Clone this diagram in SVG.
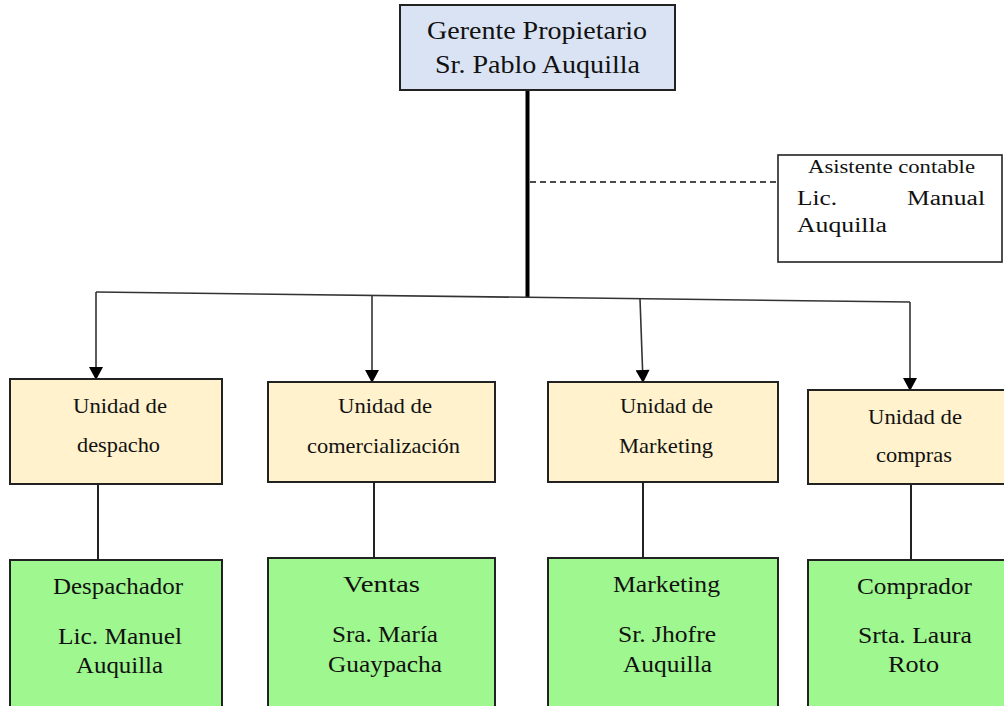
<svg xmlns="http://www.w3.org/2000/svg" width="1004" height="706" viewBox="0 0 1004 706">
<style>
.box{stroke:#222;stroke-width:2}
.top{fill:#dae3f3}
.unit{fill:#fff2cc}
.staff{fill:#9ff78f}
.asst{fill:#fff;stroke:#222;stroke-width:1.6}
text{fill:#111}
.t26{font-size:26px}
.t20{font-size:20px}
.t21{font-size:21px}
.t24{font-size:24px}
.conn{stroke:#333;stroke-width:1.6;fill:none}
</style>
<defs>
<marker id="arrd" markerUnits="userSpaceOnUse" markerWidth="14" markerHeight="14" viewBox="0 0 13 14" refX="12" refY="7" orient="auto">
<path d="M0,0 L13,7 L0,14 Z" fill="#000"/>
</marker>
</defs>
<rect width="1004" height="706" fill="#fff"/>

<g id="connectors">
<line x1="527.5" y1="90" x2="527.5" y2="297" stroke="#000" stroke-width="4"/>
<line x1="530" y1="182" x2="778" y2="182" stroke="#111" stroke-width="1.5" stroke-dasharray="6,4"/>
<line x1="96" y1="292" x2="910" y2="302" class="conn"/>
<line x1="96" y1="292" x2="96" y2="379" class="conn" marker-end="url(#arrd)"/>
<line x1="372" y1="295.4" x2="372" y2="382" class="conn" marker-end="url(#arrd)"/>
<line x1="640" y1="298.7" x2="643" y2="382" class="conn" marker-end="url(#arrd)"/>
<line x1="910" y1="302" x2="910" y2="390" class="conn" marker-end="url(#arrd)"/>
<line x1="98" y1="484" x2="98" y2="560" stroke="#222" stroke-width="2"/>
<line x1="374" y1="482" x2="374" y2="558" stroke="#222" stroke-width="2"/>
<line x1="643" y1="482" x2="643" y2="558" stroke="#222" stroke-width="2"/>
<line x1="911" y1="484" x2="911" y2="560" stroke="#222" stroke-width="2"/>
</g>

<g font-family="'Liberation Serif', 'Times New Roman', 'DejaVu Serif', serif">
<g id="gerente">
<rect x="400" y="5" width="275" height="85" class="box top"/>
<text x="427" y="39" class="t26" textLength="220" lengthAdjust="spacingAndGlyphs">Gerente Propietario</text>
<text x="435" y="73" class="t26" textLength="205" lengthAdjust="spacingAndGlyphs">Sr. Pablo Auquilla</text>
</g>

<g id="asistente">
<rect x="778" y="155" width="224" height="107" class="asst"/>
<text x="808" y="173" style="font-size:19px" textLength="167" lengthAdjust="spacingAndGlyphs">Asistente contable</text>
<text x="797" y="205" class="t20" textLength="40" lengthAdjust="spacingAndGlyphs">Lic.</text>
<text x="907" y="205" class="t20" textLength="78" lengthAdjust="spacingAndGlyphs">Manual</text>
<text x="797" y="232" class="t20" textLength="90" lengthAdjust="spacingAndGlyphs">Auquilla</text>
</g>

<g id="unidad-despacho">
<rect x="10" y="379" width="212" height="105" class="box unit"/>
<text x="73" y="413" class="t21" textLength="94" lengthAdjust="spacingAndGlyphs">Unidad de</text>
<text x="77" y="452" class="t21" textLength="83" lengthAdjust="spacingAndGlyphs">despacho</text>
</g>

<g id="unidad-comercializacion">
<rect x="268" y="382" width="227" height="100" class="box unit"/>
<text x="338" y="413" class="t21" textLength="94" lengthAdjust="spacingAndGlyphs">Unidad de</text>
<text x="307" y="453" class="t21" textLength="153" lengthAdjust="spacingAndGlyphs">comercialización</text>
</g>

<g id="unidad-marketing">
<rect x="548" y="382" width="230" height="100" class="box unit"/>
<text x="620" y="413" class="t21" textLength="93" lengthAdjust="spacingAndGlyphs">Unidad de</text>
<text x="619" y="453" class="t21" textLength="94" lengthAdjust="spacingAndGlyphs">Marketing</text>
</g>

<g id="unidad-compras">
<rect x="808" y="390" width="205" height="94" class="box unit"/>
<text x="868" y="424" class="t21" textLength="94" lengthAdjust="spacingAndGlyphs">Unidad de</text>
<text x="876" y="462" class="t21" textLength="76" lengthAdjust="spacingAndGlyphs">compras</text>
</g>

<g id="despachador">
<rect x="10" y="560" width="212" height="160" class="box staff"/>
<text x="53" y="594" class="t24" textLength="130" lengthAdjust="spacingAndGlyphs">Despachador</text>
<text x="58" y="644" class="t24" textLength="124" lengthAdjust="spacingAndGlyphs">Lic. Manuel</text>
<text x="76" y="673" class="t24" textLength="87" lengthAdjust="spacingAndGlyphs">Auquilla</text>
</g>

<g id="ventas">
<rect x="268" y="558" width="227" height="160" class="box staff"/>
<text x="343" y="592" class="t24" textLength="77" lengthAdjust="spacingAndGlyphs">Ventas</text>
<text x="332" y="642" class="t24" textLength="106" lengthAdjust="spacingAndGlyphs">Sra. María</text>
<text x="328" y="672" class="t24" textLength="114" lengthAdjust="spacingAndGlyphs">Guaypacha</text>
</g>

<g id="marketing">
<rect x="548" y="558" width="230" height="160" class="box staff"/>
<text x="613" y="592" class="t24" textLength="107" lengthAdjust="spacingAndGlyphs">Marketing</text>
<text x="618" y="642" class="t24" textLength="98" lengthAdjust="spacingAndGlyphs">Sr. Jhofre</text>
<text x="623" y="672" class="t24" textLength="89" lengthAdjust="spacingAndGlyphs">Auquilla</text>
</g>

<g id="comprador">
<rect x="808" y="560" width="205" height="160" class="box staff"/>
<text x="857" y="594" class="t24" textLength="115" lengthAdjust="spacingAndGlyphs">Comprador</text>
<text x="858" y="643" class="t24" textLength="114" lengthAdjust="spacingAndGlyphs">Srta. Laura</text>
<text x="888" y="672" class="t24" textLength="51" lengthAdjust="spacingAndGlyphs">Roto</text>
</g>
</g>
</svg>
